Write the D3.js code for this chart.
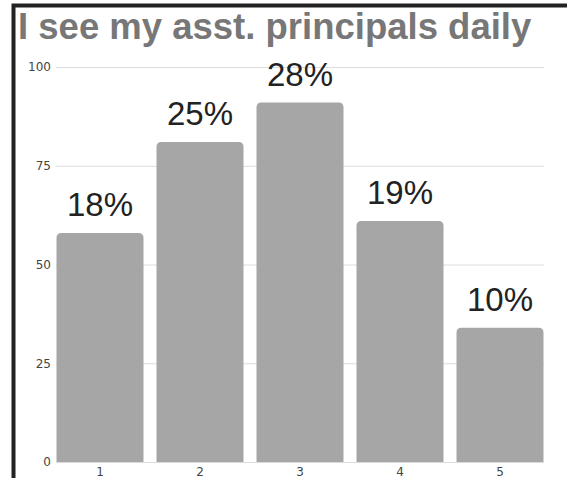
<!DOCTYPE html>
<html><head><meta charset="utf-8">
<script src="https://cdn.jsdelivr.net/npm/d3@7"></script>
<style>html,body{margin:0;padding:0;background:#fff;overflow:hidden}</style>
</head><body>
<svg id="c" width="567" height="478"></svg>
<script>
const categories = ["1","2","3","4","5"];
const values = [58, 81, 91, 61, 34];
const percentLabels = ["18%","25%","28%","19%","10%"];
const yTicks = [0, 25, 50, 75, 100];
const title = "I see my asst. principals daily";

const svg = d3.select("#c");
const x = d3.scaleBand().domain(categories).range([56.5, 543.5]).paddingInner(0.13).paddingOuter(0);
const y = d3.scaleLinear().domain([0, 100]).range([462, 67]);

// border
svg.append("rect").attr("x", 13.5).attr("y", 5.5).attr("width", 560).attr("height", 480)
  .attr("fill", "none").attr("stroke", "#222").attr("stroke-width", 4);

// gridlines + y labels
const yAxis = d3.axisLeft(y).tickValues(yTicks).tickSize(-(544 - 56)).tickPadding(5);
const gy = svg.append("g").attr("transform", "translate(56,0)").call(yAxis);
gy.select(".domain").remove();
gy.selectAll(".tick line").attr("stroke", "#dcdcdc").attr("stroke-width", 1);
gy.selectAll(".tick text").attr("fill", "#444").attr("font-family", "DejaVu Sans, sans-serif").attr("font-size", 12);

// bars with rounded tops
const r = 5;
svg.append("g").selectAll("path").data(values).join("path")
  .attr("fill", "#a6a6a6")
  .attr("d", (d, i) => {
    const x0 = x(categories[i]), w = x.bandwidth(), y0 = y(d), y1 = y(0);
    return `M${x0},${y1}V${y0 + r}Q${x0},${y0} ${x0 + r},${y0}H${x0 + w - r}Q${x0 + w},${y0} ${x0 + w},${y0 + r}V${y1}Z`;
  });

// value labels
svg.append("g").selectAll("text").data(values).join("text")
  .attr("x", (d, i) => x(categories[i]) + x.bandwidth() / 2)
  .attr("y", d => y(d) - 17)
  .attr("text-anchor", "middle")
  .attr("font-family", "Liberation Sans, Arial, sans-serif")
  .attr("font-size", 33).attr("fill", "#222")
  .text((d, i) => percentLabels[i]);

// x axis labels
const xAxis = d3.axisBottom(x).tickSize(0).tickPadding(5);
const gx = svg.append("g").attr("transform", "translate(0,462)").call(xAxis);
gx.select(".domain").remove();
gx.selectAll(".tick text").attr("fill", "#444").attr("font-family", "DejaVu Sans, sans-serif").attr("font-size", 12);

// title
svg.append("text").attr("x", 18).attr("y", 39)
  .attr("font-family", "Liberation Sans, Arial, sans-serif").attr("font-weight", "bold")
  .attr("font-size", 36.5).attr("fill", "#777").text(title);
</script>
</body></html>
